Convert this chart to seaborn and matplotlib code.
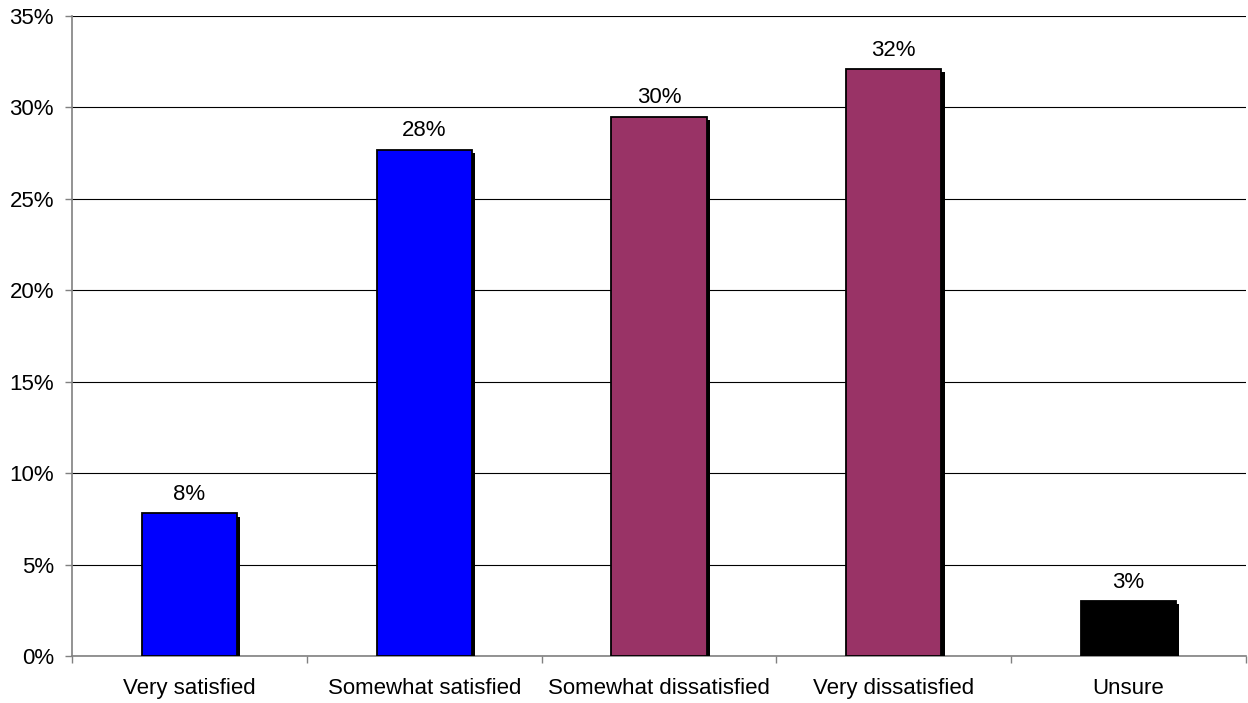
import seaborn as sns
import matplotlib
matplotlib.use("Agg")
import matplotlib.pyplot as plt
import matplotlib.patheffects as pe
from matplotlib.ticker import PercentFormatter, FixedLocator
import pandas as pd

# data
categories = ["Very satisfied", "Somewhat satisfied", "Somewhat dissatisfied",
              "Very dissatisfied", "Unsure"]
values = [7.8, 27.7, 29.5, 32.1, 3.0]
bar_colors = ["#0000FF", "#0000FF", "#993366", "#993366", "#000000"]

df = pd.DataFrame({"cat": categories, "pct": values})

sns.set_style("white")
plt.rcParams["font.family"] = ["Liberation Sans", "DejaVu Sans"]
plt.rcParams["text.color"] = "black"
plt.rcParams["xtick.labelcolor"] = "black"
plt.rcParams["ytick.labelcolor"] = "black"

fig = plt.figure(figsize=(12.48, 7.03), dpi=100)
ax = fig.add_axes([0.0577, 0.0669, 0.9407, 0.9103])

sns.barplot(data=df, x="cat", y="pct", hue="cat", palette=bar_colors,
            legend=False, width=0.405, edgecolor="black", linewidth=1.3,
            saturation=1, ax=ax)

# drop shadow like the old excel chart
for p in ax.patches:
    p.set_path_effects([pe.SimplePatchShadow(offset=(2.3, -2.3), shadow_rgbFace="black", alpha=1),
                        pe.Normal()])
    p.set_zorder(3)

for c in ax.containers:
    ax.bar_label(c, labels=[f"{v:.0f}%" for v in c.datavalues], padding=6, fontsize=16, color="black")

ax.set_ylim(0, 35)
ax.set_xlim(-0.5, 4.5)
ax.set_yticks(range(0, 36, 5))
ax.yaxis.set_major_formatter(PercentFormatter(decimals=0))
ax.grid(axis="y", color="black", linewidth=0.8)
ax.set_axisbelow(True)

for s in ["top", "right"]:
    ax.spines[s].set_visible(False)
for s in ["left", "bottom"]:
    ax.spines[s].set_color("#808080")
    ax.spines[s].set_linewidth(1.2)

ax.tick_params(axis="y", left=True, length=5, width=1, color="#808080", pad=8,
               labelsize=16, labelcolor="black")
ax.tick_params(axis="x", which="major", length=0, pad=16, labelsize=16, labelcolor="black")
ax.xaxis.set_minor_locator(FixedLocator([-0.5, 0.5, 1.5, 2.5, 3.5, 4.5]))
ax.tick_params(axis="x", which="minor", bottom=True, length=5, width=1, color="#808080")

ax.set_xlabel("")
ax.set_ylabel("")

fig.savefig("out.png", dpi=100)
